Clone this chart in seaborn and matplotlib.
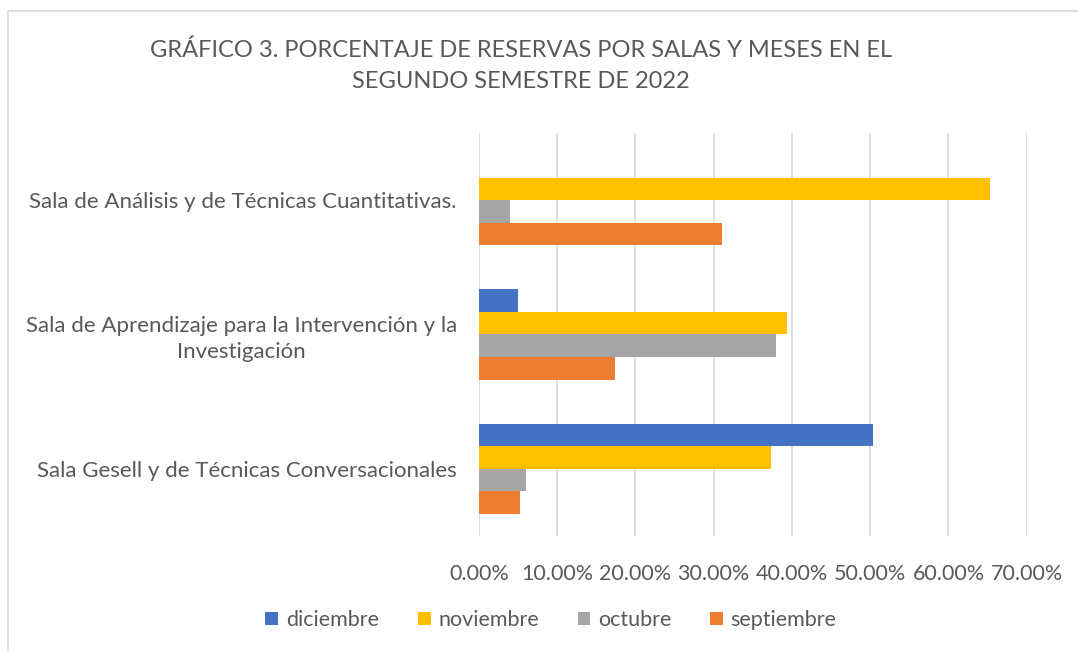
import matplotlib
matplotlib.use("Agg")
import matplotlib.pyplot as plt
import seaborn as sns
import pandas as pd
from matplotlib.lines import Line2D
from matplotlib.patches import Patch

categories = [
    "Sala de Análisis y de Técnicas Cuantitativas.",
    "Sala de Aprendizaje para la Intervención y la\nInvestigación",
    "Sala Gesell y de Técnicas Conversacionales",
]
months = ["diciembre", "noviembre", "octubre", "septiembre"]
diciembre = [0.0, 0.050, 0.503]
noviembre = [0.653, 0.394, 0.373]
octubre = [0.040, 0.380, 0.060]
septiembre = [0.310, 0.174, 0.053]
colors = ["#4472C4", "#FFC000", "#A5A5A5", "#ED7D31"]
xticks = [0.0, 0.1, 0.2, 0.3, 0.4, 0.5, 0.6, 0.7]

rows = []
for m, vals in zip(months, [diciembre, noviembre, octubre, septiembre]):
    for c, v in zip(categories, vals):
        rows.append({"sala": c, "mes": m, "valor": v})
df = pd.DataFrame(rows)

sns.set_theme(style="white")
plt.rcParams["font.family"] = ["Lato", "DejaVu Sans"]
text_color = "#595959"

fig = plt.figure(figsize=(10.78, 6.51), dpi=100)
ax = fig.add_axes([479 / 1078, 1 - 536 / 651, (1026.7 - 479) / 1078, (536 - 133) / 651])

sns.barplot(data=df, y="sala", x="valor", hue="mes", order=categories,
            hue_order=months, palette=colors, orient="h", width=0.674,
            gap=0, saturation=1, ax=ax, legend=False, linewidth=0)

ax.set_xlim(0, 0.7)
ax.set_xticks(xticks)
ax.set_xticklabels([f"{t * 100:.2f}%" for t in xticks], color=text_color, fontsize=15.5)
ax.tick_params(axis="x", length=0, pad=20)
ax.tick_params(axis="y", length=0, pad=16)
for lbl in ax.get_yticklabels():
    lbl.set_color(text_color)
    lbl.set_fontsize(16)
    lbl.set_multialignment("center")
    lbl.set_linespacing(1.35)
ax.set_xlabel("")
ax.set_ylabel("")
ax.grid(axis="x", color="#D9D9D9", linewidth=1.2)
ax.set_axisbelow(True)
for s in ax.spines.values():
    s.set_visible(False)

fig.text(521 / 1078, 1 - 66 / 651,
         "GRÁFICO 3. PORCENTAJE DE RESERVAS POR SALAS Y MESES EN EL\nSEGUNDO SEMESTRE DE 2022",
         ha="center", va="center", fontsize=17, color=text_color,
         linespacing=1.6, fontweight="normal")

handles = [Patch(facecolor=c, edgecolor="none") for c in colors]
fig.legend(handles, months, loc="center", bbox_to_anchor=(551 / 1078, 1 - 620 / 651),
           ncol=4, frameon=False, fontsize=15.5, handlelength=0.6, handleheight=0.6,
           handletextpad=0.35, columnspacing=1.8, labelcolor=text_color)

fig.add_artist(Line2D([8 / 1078, 1], [1 - 11 / 651, 1 - 11 / 651],
                      transform=fig.transFigure, color="#D9D9D9", linewidth=1.2))
fig.add_artist(Line2D([8 / 1078, 8 / 1078], [0, 1 - 11 / 651],
                      transform=fig.transFigure, color="#D9D9D9", linewidth=1.2))

fig.savefig("out.png", dpi=100)
